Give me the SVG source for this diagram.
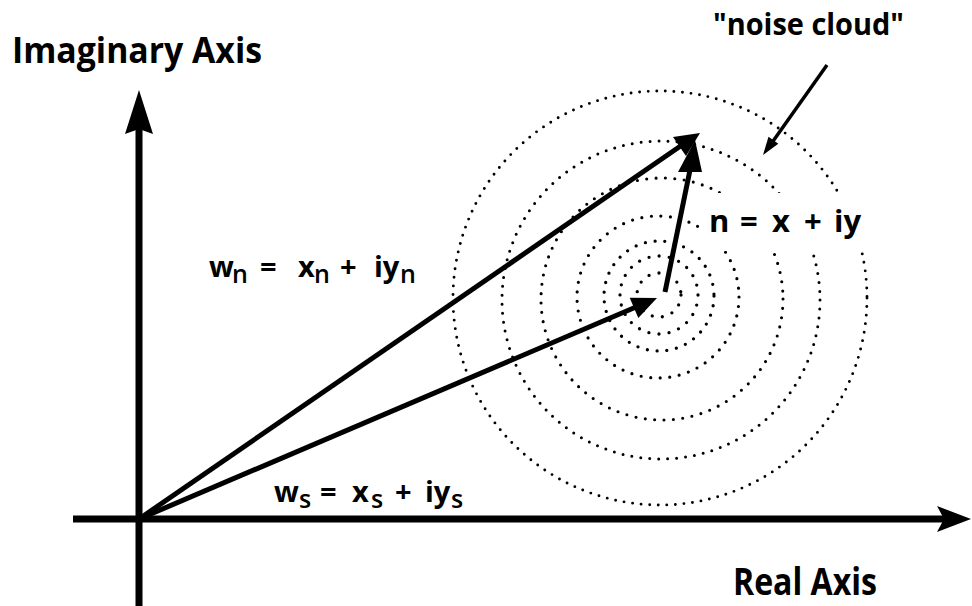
<svg xmlns="http://www.w3.org/2000/svg" width="972" height="606" viewBox="0 0 972 606">
  <style>
    .lbl { font-family: "Open Sans", "Noto Sans", "DejaVu Sans", sans-serif; font-weight: 700; fill: #000; }
    .sub { font-weight: 600; font-size: 25px; }
    .ring { fill: none; stroke: #000; stroke-linecap: round; }
    .axis { stroke: #000; stroke-width: 7; fill: none; }
    .vec { stroke: #000; stroke-width: 5; fill: none; }
    .head { fill: #000; }
  </style>
  <defs>
    <mask id="textGap" maskUnits="userSpaceOnUse" x="0" y="0" width="972" height="606">
      <rect x="0" y="0" width="972" height="606" fill="#fff"/>
      <rect x="701" y="193" width="175" height="58" fill="#000"/>
    </mask>
  </defs>
  <rect x="0" y="0" width="972" height="606" fill="#fff"/>

  <g id="noise-cloud" mask="url(#textGap)">
    <circle class="ring" cx="660" cy="298" r="207" stroke-width="2.9" stroke-dasharray="0 8.6"/>
    <circle class="ring" cx="661" cy="300" r="159" stroke-width="3" stroke-dasharray="0 9"/>
    <circle class="ring" cx="662" cy="299" r="121" stroke-width="3.1" stroke-dasharray="0 9.4"/>
    <circle class="ring" cx="658" cy="297" r="81" stroke-width="3.2" stroke-dasharray="0 9.6"/>
    <circle class="ring" cx="659" cy="296" r="55" stroke-width="3.3" stroke-dasharray="0 9.8"/>
    <circle class="ring" cx="659" cy="295" r="39" stroke-width="3.3" stroke-dasharray="0 10.2"/>
    <circle class="ring" cx="659" cy="295" r="22" stroke-width="3.3" stroke-dasharray="0 10.3"/>
  </g>

  <g id="imaginary-axis">
    <line class="axis" x1="139" y1="606" x2="139" y2="128"/>
    <polygon class="head" points="139,90 153,134 139,129 125,134"/>
  </g>
  <g id="real-axis">
    <line class="axis" x1="73" y1="519" x2="945" y2="519"/>
    <polygon class="head" points="971,519 937,506 944,519 937,532"/>
  </g>

  <g id="connectors">
    <g id="vec-wn">
      <line class="vec" x1="139" y1="519" x2="682" y2="145"/>
      <polygon class="head" points="700,133 673,137 686,156"/>
    </g>
    <g id="vec-ws">
      <line class="vec" x1="139" y1="519" x2="636" y2="307"/>
      <polygon class="head" points="657,298 629.7,297.7 638.3,317.9"/>
    </g>
    <g id="vec-n">
      <line class="vec" x1="665" y1="292" x2="690" y2="170"/>
      <polygon class="head" points="695,140 678,172 702,172"/>
    </g>
    <g id="pointer">
      <line x1="827" y1="65" x2="771" y2="144" stroke="#000" stroke-width="3.5"/>
      <polygon class="head" points="763,155 778.3,143.8 768.5,136.8"/>
    </g>
  </g>

  <g id="label-imaginary">
    <text class="lbl" x="12" y="63" font-size="36" textLength="250" lengthAdjust="spacingAndGlyphs">Imaginary Axis</text>
  </g>
  <g id="label-real">
    <text class="lbl" x="733" y="595" font-size="37" textLength="144" lengthAdjust="spacingAndGlyphs">Real Axis</text>
  </g>
  <g id="label-noise-cloud">
    <text class="lbl" x="713" y="35" font-size="30" textLength="191" lengthAdjust="spacingAndGlyphs">"noise cloud"</text>
  </g>
  <g id="label-n">
    <text class="lbl" y="232" font-size="31"><tspan x="709">n</tspan><tspan x="740">=</tspan><tspan x="772">x</tspan><tspan x="804">+</tspan><tspan x="834">iy</tspan></text>
  </g>
  <g id="label-wn">
    <text class="lbl" y="277" font-size="29"><tspan x="209">w</tspan><tspan class="sub" x="232" y="283">n</tspan><tspan x="260" y="277">=</tspan><tspan x="298">x</tspan><tspan class="sub" x="314" y="283">n</tspan><tspan x="340" y="277">+</tspan><tspan x="374">iy</tspan><tspan class="sub" x="400" y="283">n</tspan></text>
  </g>
  <g id="label-ws">
    <text class="lbl" y="502" font-size="29"><tspan x="274">w</tspan><tspan class="sub" x="299" y="508">s</tspan><tspan x="320" y="502">=</tspan><tspan x="352">x</tspan><tspan class="sub" x="371" y="508">s</tspan><tspan x="395" y="502">+</tspan><tspan x="425">iy</tspan><tspan class="sub" x="451" y="508">s</tspan></text>
  </g>
</svg>
